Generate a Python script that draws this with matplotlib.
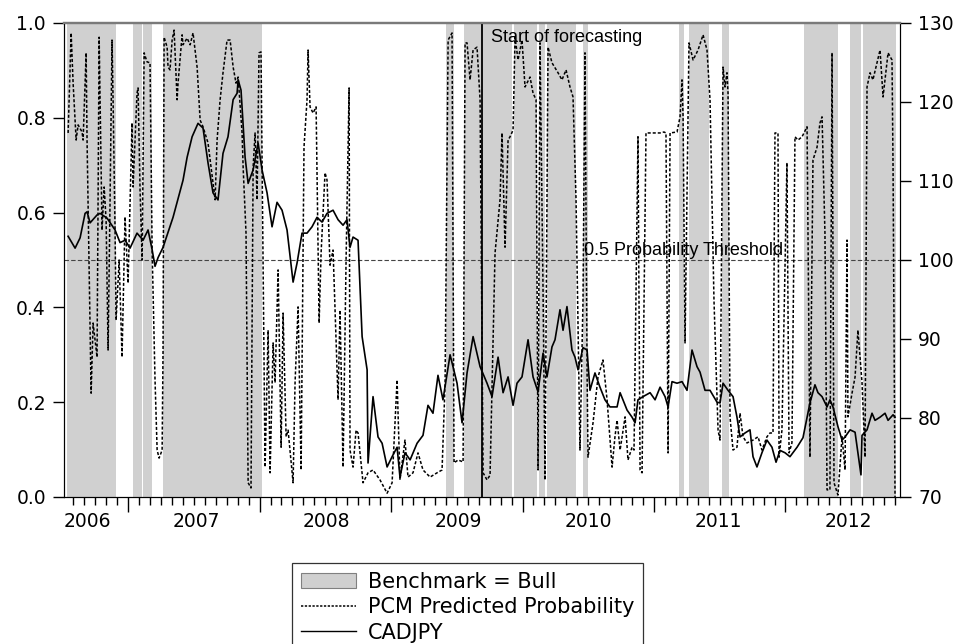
import matplotlib
matplotlib.use("Agg")
import matplotlib.pyplot as plt
import matplotlib.transforms as mtransforms
from matplotlib.patches import Patch
from matplotlib.lines import Line2D
from matplotlib.ticker import MultipleLocator, NullFormatter

plt.rcParams['font.family'] = ['DejaVu Sans']

# dates are decimal years
bull_start = [2006.536, 2007.038, 2007.114, 2007.266, 2009.418, 2009.555, 2009.935,
              2010.126, 2010.186, 2010.460, 2011.190, 2011.266, 2011.517, 2012.141,
              2012.491, 2012.589]
bull_end = [2006.909, 2007.107, 2007.183, 2008.019, 2009.479, 2009.920, 2010.110,
            2010.171, 2010.407, 2010.498, 2011.228, 2011.418, 2011.570, 2012.399,
            2012.574, 2012.840]

cad_year = [2006.544, 2006.597, 2006.635, 2006.673, 2006.688, 2006.711, 2006.764, 2006.787,
            2006.840, 2006.901, 2006.939, 2006.977, 2007.015, 2007.068, 2007.114, 2007.152,
            2007.183, 2007.205, 2007.228, 2007.266, 2007.342, 2007.418, 2007.449, 2007.487,
            2007.532, 2007.570, 2007.608, 2007.646, 2007.684, 2007.722, 2007.760, 2007.799,
            2007.829, 2007.837, 2007.859, 2007.890, 2007.913, 2007.951, 2007.989, 2008.019,
            2008.057, 2008.095, 2008.133, 2008.171, 2008.209, 2008.255, 2008.285, 2008.323,
            2008.361, 2008.399, 2008.437, 2008.475, 2008.513, 2008.559, 2008.597, 2008.635,
            2008.665, 2008.688, 2008.711, 2008.749, 2008.780, 2008.818, 2008.825, 2008.863,
            2008.901, 2008.932, 2008.970, 2009.008, 2009.046, 2009.068, 2009.106, 2009.145,
            2009.198, 2009.243, 2009.281, 2009.319, 2009.357, 2009.395, 2009.449, 2009.502,
            2009.540, 2009.578, 2009.624, 2009.677, 2009.730, 2009.768, 2009.814, 2009.852,
            2009.890, 2009.928, 2009.958, 2009.996, 2010.042, 2010.080, 2010.118, 2010.156,
            2010.186, 2010.224, 2010.247, 2010.285, 2010.308, 2010.338, 2010.376, 2010.399,
            2010.422, 2010.460, 2010.491, 2010.513, 2010.551, 2010.589, 2010.627, 2010.665,
            2010.719, 2010.742, 2010.795, 2010.833, 2010.856, 2010.878, 2010.916, 2010.970,
            2011.008, 2011.046, 2011.084, 2011.107, 2011.137, 2011.175, 2011.213, 2011.251,
            2011.289, 2011.327, 2011.350, 2011.388, 2011.426, 2011.479, 2011.502, 2011.525,
            2011.563, 2011.601, 2011.631, 2011.654, 2011.692, 2011.730, 2011.753, 2011.783,
            2011.821, 2011.859, 2011.897, 2011.928, 2011.958, 2011.996, 2012.034, 2012.088,
            2012.133, 2012.186, 2012.224, 2012.247, 2012.278, 2012.316, 2012.338, 2012.361,
            2012.399, 2012.430, 2012.453, 2012.491, 2012.529, 2012.574, 2012.582, 2012.620,
            2012.658, 2012.681, 2012.719, 2012.757, 2012.780, 2012.818, 2012.833]
cad_value = [103.0, 101.5, 102.8, 105.9, 106.1, 104.7, 105.7, 105.9,
             105.3, 103.8, 102.2, 102.5, 101.5, 103.4, 102.5, 103.8,
             101.3, 99.2, 100.3, 101.6, 105.4, 110.1, 113.0, 115.6,
             117.3, 116.7, 112.3, 108.5, 107.6, 113.5, 115.6, 120.3,
             121.1, 122.8, 121.5, 113.0, 109.7, 111.4, 114.8, 111.4,
             108.5, 104.2, 107.3, 106.3, 103.8, 97.2, 99.6, 103.4,
             103.4, 104.2, 105.4, 104.8, 105.9, 106.3, 105.1, 104.4,
             105.1, 101.6, 102.9, 102.5, 90.3, 86.1, 74.3, 82.7,
             77.6, 76.8, 73.8, 75.1, 76.3, 72.5, 75.6, 74.7,
             76.8, 77.8, 81.6, 80.6, 85.4, 82.3, 88.0, 84.4,
             79.4, 85.7, 90.3, 86.5, 84.4, 82.7, 87.7, 83.2,
             85.2, 81.6, 84.4, 85.2, 89.9, 85.2, 83.3, 88.2,
             85.2, 89.0, 89.9, 93.7, 91.1, 94.1, 88.6, 87.7,
             86.1, 88.9, 88.6, 83.5, 85.7, 83.9, 82.3, 81.4,
             81.4, 83.2, 81.0, 80.1, 79.4, 82.3, 82.7, 83.2,
             82.3, 83.9, 82.7, 81.4, 84.6, 84.4, 84.6, 83.5,
             88.6, 86.5, 85.8, 83.5, 83.5, 82.0, 81.9, 84.4,
             83.5, 82.7, 80.1, 77.6, 78.1, 78.5, 75.1, 73.8,
             75.6, 77.2, 76.3, 74.4, 75.9, 75.6, 75.1, 76.3,
             77.5, 81.9, 84.2, 83.2, 82.7, 81.4, 82.3, 81.4,
             78.9, 77.2, 77.6, 78.5, 78.2, 72.8, 77.8, 78.5,
             80.6, 79.7, 80.1, 80.6, 79.7, 80.4, 80.1]

prob_year = [2006.544, 2006.567, 2006.582, 2006.605, 2006.620, 2006.650, 2006.658, 2006.681,
             2006.688, 2006.719, 2006.734, 2006.764, 2006.780, 2006.802, 2006.818, 2006.833,
             2006.848, 2006.863, 2006.878, 2006.886, 2006.901, 2006.909, 2006.932, 2006.954,
             2006.977, 2007.000, 2007.030, 2007.038, 2007.068, 2007.076, 2007.091, 2007.107,
             2007.122, 2007.144, 2007.167, 2007.183, 2007.205, 2007.221, 2007.236, 2007.259,
             2007.266, 2007.274, 2007.297, 2007.304, 2007.319, 2007.335, 2007.350, 2007.373,
             2007.380, 2007.411, 2007.418, 2007.449, 2007.472, 2007.494, 2007.525, 2007.548,
             2007.570, 2007.608, 2007.639, 2007.662, 2007.677, 2007.700, 2007.722, 2007.753,
             2007.776, 2007.799, 2007.821, 2007.837, 2007.867, 2007.875, 2007.897, 2007.913,
             2007.935, 2007.951, 2007.966, 2007.981, 2007.996, 2008.011, 2008.042, 2008.065,
             2008.080, 2008.103, 2008.118, 2008.141, 2008.164, 2008.179, 2008.202, 2008.217,
             2008.255, 2008.270, 2008.293, 2008.316, 2008.338, 2008.361, 2008.369, 2008.384,
             2008.407, 2008.430, 2008.453, 2008.468, 2008.498, 2008.513, 2008.536, 2008.559,
             2008.597, 2008.612, 2008.635, 2008.658, 2008.681, 2008.688, 2008.711, 2008.734,
             2008.749, 2008.787, 2008.825, 2008.863, 2008.916, 2008.970, 2009.008, 2009.046,
             2009.068, 2009.106, 2009.129, 2009.167, 2009.205, 2009.243, 2009.297, 2009.350,
             2009.388, 2009.411, 2009.434, 2009.464, 2009.479, 2009.510, 2009.548, 2009.563,
             2009.578, 2009.601, 2009.624, 2009.654, 2009.677, 2009.700, 2009.730, 2009.753,
             2009.791, 2009.829, 2009.844, 2009.867, 2009.890, 2009.905, 2009.928, 2009.943,
             2009.966, 2009.996, 2010.019, 2010.057, 2010.080, 2010.103, 2010.118, 2010.133,
             2010.156, 2010.171, 2010.194, 2010.224, 2010.270, 2010.300, 2010.331, 2010.361,
             2010.384, 2010.407, 2010.437, 2010.460, 2010.475, 2010.491, 2010.498, 2010.536,
             2010.574, 2010.612, 2010.643, 2010.681, 2010.703, 2010.719, 2010.742, 2010.780,
             2010.802, 2010.833, 2010.848, 2010.878, 2010.894, 2010.909, 2010.916, 2010.939,
             2010.992, 2011.046, 2011.076, 2011.091, 2011.107, 2011.122, 2011.175, 2011.198,
             2011.213, 2011.221, 2011.236, 2011.266, 2011.297, 2011.335, 2011.373, 2011.403,
             2011.426, 2011.456, 2011.487, 2011.502, 2011.525, 2011.540, 2011.555, 2011.563,
             2011.578, 2011.601, 2011.631, 2011.654, 2011.677, 2011.707, 2011.753, 2011.791,
             2011.821, 2011.859, 2011.882, 2011.905, 2011.920, 2011.943, 2011.951, 2011.973,
             2012.011, 2012.027, 2012.049, 2012.072, 2012.095, 2012.126, 2012.164, 2012.186,
             2012.209, 2012.240, 2012.262, 2012.278, 2012.300, 2012.316, 2012.338, 2012.354,
             2012.369, 2012.399, 2012.430, 2012.453, 2012.468, 2012.475, 2012.506, 2012.529,
             2012.551, 2012.582, 2012.605, 2012.620, 2012.643, 2012.665, 2012.696, 2012.719,
             2012.742, 2012.780, 2012.810, 2012.818, 2012.833]
prob_value = [0.768, 0.979, 0.873, 0.753, 0.785, 0.770, 0.753, 0.937,
              0.753, 0.219, 0.367, 0.295, 0.970, 0.563, 0.654, 0.584,
              0.310, 0.627, 0.964, 0.838, 0.563, 0.373, 0.500, 0.295,
              0.591, 0.451, 0.789, 0.654, 0.852, 0.863, 0.648, 0.500,
              0.937, 0.918, 0.916, 0.521, 0.247, 0.099, 0.082, 0.099,
              0.310, 0.970, 0.949, 0.907, 0.901, 0.964, 0.985, 0.838,
              0.873, 0.975, 0.954, 0.968, 0.954, 0.979, 0.907, 0.795,
              0.781, 0.747, 0.679, 0.627, 0.753, 0.838, 0.895, 0.964,
              0.964, 0.907, 0.873, 0.886, 0.768, 0.696, 0.557, 0.030,
              0.019, 0.696, 0.768, 0.627, 0.937, 0.939, 0.063, 0.352,
              0.051, 0.325, 0.241, 0.479, 0.105, 0.388, 0.127, 0.141,
              0.030, 0.241, 0.401, 0.057, 0.738, 0.838, 0.943, 0.823,
              0.810, 0.823, 0.367, 0.515, 0.684, 0.669, 0.489, 0.521,
              0.205, 0.394, 0.063, 0.500, 0.863, 0.099, 0.063, 0.141,
              0.135, 0.030, 0.051, 0.057, 0.036, 0.008, 0.030, 0.247,
              0.036, 0.120, 0.042, 0.051, 0.093, 0.057, 0.042, 0.051,
              0.057, 0.241, 0.964, 0.979, 0.072, 0.078, 0.074, 0.958,
              0.958, 0.880, 0.943, 0.949, 0.838, 0.051, 0.036, 0.046,
              0.515, 0.627, 0.768, 0.527, 0.753, 0.760, 0.774, 0.970,
              0.922, 0.964, 0.865, 0.886, 0.852, 0.838, 0.057, 0.958,
              0.437, 0.036, 0.949, 0.916, 0.895, 0.880, 0.901, 0.865,
              0.844, 0.627, 0.099, 0.416, 0.937, 0.262, 0.084, 0.156,
              0.253, 0.289, 0.205, 0.063, 0.127, 0.162, 0.099, 0.169,
              0.078, 0.105, 0.099, 0.760, 0.057, 0.051, 0.219, 0.768,
              0.768, 0.768, 0.770, 0.768, 0.093, 0.768, 0.770, 0.802,
              0.880, 0.802, 0.325, 0.958, 0.922, 0.943, 0.975, 0.943,
              0.838, 0.416, 0.141, 0.120, 0.907, 0.865, 0.895, 0.852,
              0.169, 0.099, 0.105, 0.177, 0.127, 0.114, 0.120, 0.127,
              0.099, 0.127, 0.135, 0.135, 0.768, 0.768, 0.084, 0.141,
              0.705, 0.093, 0.114, 0.760, 0.753, 0.760, 0.781, 0.084,
              0.711, 0.738, 0.789, 0.802, 0.557, 0.015, 0.015, 0.937,
              0.030, 0.004, 0.127, 0.057, 0.542, 0.169, 0.219, 0.253,
              0.352, 0.241, 0.084, 0.865, 0.895, 0.880, 0.916, 0.943,
              0.844, 0.937, 0.922, 0.696, 0.000]

years = [2006, 2007, 2008, 2009, 2010, 2011, 2012]
year_label_pos = [2006.69, 2007.52, 2008.51, 2009.51, 2010.50, 2011.49, 2012.48]
forecast_start = 2009.692
threshold = 0.5

fig = plt.figure(figsize=(9.63, 6.44), dpi=100)
ax = fig.add_axes([0.0665, 0.2283, 0.8681, 0.736])
ax2 = ax.twinx()

for s, e in zip(bull_start, bull_end):
    ax.axvspan(s, e, color='#d0d0d0', lw=0, zorder=0)

ax.axhline(threshold, color='#444444', lw=0.8, ls=(0, (4, 2)), zorder=1)
ax.axvline(forecast_start, color='black', lw=1.3, zorder=3)
ax.plot(prob_year, prob_value, color='black', lw=1.1, ls=(0, (2, 1.3)), zorder=2)
ax2.plot(cad_year, cad_value, color='black', lw=1.2)

ax.set_xlim(2006.513, 2012.871)
ax.set_ylim(0, 1)
ax2.set_ylim(70, 130)
ax.set_yticks([0.0, 0.2, 0.4, 0.6, 0.8, 1.0])
ax.set_yticklabels(['0.0', '0.2', '0.4', '0.6', '0.8', '1.0'])
ax2.set_yticks([70, 80, 90, 100, 110, 120, 130])

ax.set_xticks(years[1:])
ax.xaxis.set_major_formatter(NullFormatter())
ax.xaxis.set_minor_locator(MultipleLocator(1 / 12))
ax.tick_params(axis='x', which='major', length=11, width=1, direction='out')
ax.tick_params(axis='x', which='minor', length=6, width=1, direction='out')
ax.tick_params(axis='y', length=8, width=1, labelsize=13.5, pad=5)
ax2.tick_params(axis='y', length=8, width=1, labelsize=13.5, pad=5)

trans = mtransforms.blended_transform_factory(ax.transData, ax.transAxes)
for yr, pos in zip(years, year_label_pos):
    ax.text(pos, -0.031, str(yr), transform=trans, ha='center', va='top', fontsize=13.5)

for a in (ax, ax2):
    a.spines['top'].set_color('#7a7a7a')
    a.spines['top'].set_linewidth(1.6)
    for side in ('left', 'right', 'bottom'):
        a.spines[side].set_color('black')

ax.text(2009.76, 0.988, 'Start of forecasting', fontsize=13, family='Liberation Sans',
        ha='left', va='top', zorder=4)
ax.text(2010.467, 0.503, '0.5 Probability Threshold', fontsize=13, family='Liberation Sans',
        ha='left', va='bottom', zorder=4)

handles = [Patch(facecolor='#d0d0d0', edgecolor='#808080', lw=0.8),
           Line2D([], [], color='black', lw=1.1, ls=(0, (1.5, 1))),
           Line2D([], [], color='black', lw=1.0)]
labels = ['Benchmark = Bull', 'PCM Predicted Probability', 'CADJPY']
leg = fig.legend(handles, labels, loc='upper left', bbox_to_anchor=(0.3032, 0.1258),
                 bbox_transform=fig.transFigure, fontsize=15, frameon=True,
                 fancybox=False, shadow=False, handlelength=2.65, handleheight=0.7,
                 handletextpad=0.58, labelspacing=0.26, borderpad=0.42, borderaxespad=0)
leg.get_frame().set_edgecolor('black')
leg.get_frame().set_linewidth(0.9)

fig.savefig('out.png', dpi=100)
